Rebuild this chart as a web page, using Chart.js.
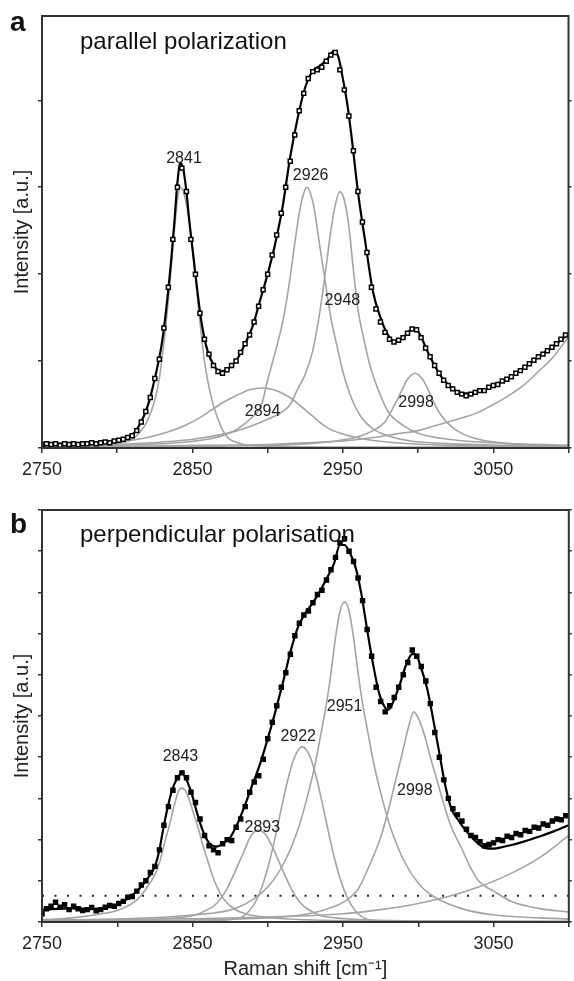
<!DOCTYPE html>
<html>
<head>
<meta charset="utf-8">
<script src="https://cdn.jsdelivr.net/npm/chart.js@4.4.1/dist/chart.umd.min.js"></script>
<style>
  body { margin: 0; background: #fff; }
  #wrap { position: relative; width: 574px; height: 981px; }
  canvas { position: absolute; left: 0; }
</style>
</head>
<body>
<div id="wrap">
  <canvas id="chartA" width="574" height="490" style="top:0px"></canvas>
  <canvas id="chartB" width="574" height="491" style="top:490px"></canvas>
</div>
<script>
// x axis
const xMin = 2750;
const xMax = 3100;
const xTickLabels = [2750, 2850, 2950, 3050];

// measured points (shared wavenumber grid for both panels)
const wnData = [
	2750, 2753, 2756, 2759, 2762, 2765, 2768, 2771, 2774, 2777,
	2780, 2783, 2786, 2789, 2792, 2795, 2798, 2801, 2804, 2807,
	2810, 2813, 2816, 2819, 2822, 2825, 2828, 2831, 2834, 2837,
	2840, 2843, 2846, 2849, 2852, 2855, 2858, 2861, 2864, 2867,
	2870, 2873, 2876, 2879, 2882, 2885, 2888, 2891, 2894, 2897,
	2900, 2903, 2906, 2909, 2912, 2915, 2918, 2921, 2924, 2927,
	2930, 2933, 2936, 2939, 2942, 2945, 2948, 2951, 2954, 2957,
	2960, 2963, 2966, 2969, 2972, 2975, 2978, 2981, 2984, 2987,
	2990, 2993, 2996, 2999, 3002, 3005, 3008, 3011, 3014, 3017,
	3020, 3023, 3026, 3029, 3032, 3035, 3038, 3041, 3044, 3047,
	3050, 3053, 3056, 3059, 3062, 3065, 3068, 3071, 3074, 3077,
	3080, 3083, 3086, 3089, 3092, 3095, 3098,
];

// ---------- panel a: parallel polarization ----------
const dataA = [
	0.04, 0.05, 0.04, 0.05, 0.03, 0.05, 0.04, 0.05, 0.04, 0.05,
	0.05, 0.06, 0.05, 0.06, 0.07, 0.06, 0.08, 0.09, 0.1, 0.12,
	0.14, 0.2, 0.3, 0.42, 0.58, 0.8, 1.02, 1.38, 1.85, 2.4,
	3.0, 3.22, 2.95, 2.4, 2.0, 1.55, 1.25, 1.08, 0.95, 0.88,
	0.86, 0.9, 0.95, 1.0, 1.1, 1.2, 1.3, 1.45, 1.63, 1.82,
	2.0, 2.22, 2.45, 2.7, 3.0, 3.3, 3.6, 3.88, 4.08, 4.25,
	4.33, 4.35, 4.38, 4.45, 4.52, 4.55, 4.35, 4.12, 3.82, 3.42,
	2.95, 2.6, 2.25, 1.85, 1.6, 1.45, 1.33, 1.25, 1.22, 1.24,
	1.27, 1.32, 1.37, 1.36, 1.27, 1.15, 1.05, 0.95, 0.86, 0.78,
	0.72, 0.68, 0.64, 0.62, 0.6, 0.62, 0.64, 0.66, 0.66, 0.7,
	0.72, 0.73, 0.77, 0.79, 0.82, 0.86, 0.89, 0.93, 0.97, 1.01,
	1.05, 1.08, 1.12, 1.16, 1.2, 1.25, 1.3,
];

const fitWnA = [2750, 2760, 2770, 2780, 2790, 2795, 2800, 2805, 2810, 2815, 2820, 2825, 2830, 2835, 2838,
	2840, 2842, 2844, 2846, 2848, 2850, 2853, 2856, 2860, 2865, 2869, 2875, 2880, 2885, 2890,
	2895, 2900, 2905, 2910, 2915, 2920, 2925, 2930, 2935, 2940, 2944, 2947, 2950, 2953, 2956,
	2960, 2965, 2970, 2975, 2980, 2985, 2990, 2995, 2998, 3002, 3006, 3010, 3015, 3020, 3025,
	3030, 3035, 3040, 3045, 3050, 3055, 3060, 3065, 3070, 3075, 3080, 3085, 3090, 3095, 3100];
const fitA = [0.05, 0.05, 0.05, 0.05, 0.06, 0.07, 0.08, 0.1, 0.15, 0.27, 0.47, 0.8, 1.24, 2.0, 2.6,
	3.05, 3.28, 3.2, 2.95, 2.6, 2.3, 1.85, 1.45, 1.12, 0.93, 0.88, 0.93, 1.03, 1.2, 1.4,
	1.7, 2.0, 2.35, 2.78, 3.35, 3.8, 4.15, 4.34, 4.4, 4.48, 4.57, 4.5, 4.25, 3.95, 3.55,
	2.95, 2.36, 1.8, 1.5, 1.3, 1.22, 1.27, 1.36, 1.38, 1.28, 1.12, 0.98, 0.83, 0.73, 0.66,
	0.63, 0.63, 0.65, 0.67, 0.72, 0.76, 0.8, 0.86, 0.92, 0.98, 1.05, 1.11, 1.17, 1.24, 1.32];

const bandWnA2841 = [2750, 2790, 2800, 2810, 2815, 2820, 2825, 2828, 2831, 2834, 2836, 2838, 2840, 2842,
	2844, 2846, 2848, 2850, 2852, 2855, 2858, 2862, 2866, 2872, 2880, 2900, 3000, 3100];
const bandA2841 = [0.02, 0.03, 0.05, 0.1, 0.18, 0.31, 0.55, 0.8, 1.2, 1.7, 2.1, 2.5, 2.85, 3.0,
	2.95, 2.8, 2.6, 2.3, 1.95, 1.45, 1.0, 0.62, 0.38, 0.15, 0.06, 0.02, 0.01, 0.01];

const bandWnA2894 = [2750, 2780, 2800, 2820, 2833, 2845, 2855, 2863, 2870, 2880, 2888, 2896, 2904, 2914,
	2925, 2939, 2950, 2965, 2985, 3020, 3100];
const bandA2894 = [0.03, 0.05, 0.07, 0.12, 0.18, 0.26, 0.35, 0.44, 0.52, 0.61, 0.67, 0.69, 0.67, 0.59,
	0.44, 0.24, 0.16, 0.1, 0.06, 0.03, 0.01];

const bandWnA2926 = [2750, 2800, 2840, 2860, 2870, 2880, 2890, 2896, 2900, 2905, 2910, 2914, 2918, 2921,
	2924, 2926, 2928, 2931, 2934, 2938, 2942, 2946, 2950, 2956, 2962, 2970, 2980, 2995, 3020, 3060, 3100];
const bandA2926 = [0.02, 0.03, 0.06, 0.1, 0.14, 0.22, 0.36, 0.5, 0.78, 1.1, 1.45, 1.85, 2.35, 2.7,
	2.93, 3.0, 2.95, 2.75, 2.4, 1.95, 1.5, 1.18, 0.88, 0.56, 0.36, 0.22, 0.14, 0.08, 0.05, 0.03, 0.02];

const bandWnA2948 = [2750, 2800, 2850, 2880, 2900, 2910, 2915, 2920, 2925, 2930, 2935, 2939, 2942, 2945,
	2948, 2951, 2954, 2957, 2960, 2964, 2968, 2974, 2980, 2990, 3000, 3020, 3050, 3100];
const bandA2948 = [0.02, 0.04, 0.1, 0.2, 0.33, 0.42, 0.5, 0.68, 0.85, 1.12, 1.6, 2.1, 2.5, 2.8,
	2.95, 2.85, 2.55, 2.05, 1.6, 1.25, 0.95, 0.65, 0.42, 0.26, 0.17, 0.1, 0.06, 0.03];

const bandWnA2998 = [2750, 2900, 2940, 2960, 2970, 2978, 2983, 2988, 2993, 2998, 3003, 3008, 3012, 3016,
	3022, 3030, 3040, 3060, 3100];
const bandA2998 = [0.01, 0.03, 0.07, 0.13, 0.2, 0.3, 0.45, 0.62, 0.79, 0.86, 0.79, 0.62, 0.47, 0.36,
	0.25, 0.16, 0.1, 0.05, 0.02];

const baseWnA = [2750, 2800, 2850, 2900, 2925, 2950, 2970, 2985, 3000, 3010, 3020, 3030, 3040, 3050,
	3060, 3070, 3080, 3090, 3100];
const baseA = [0.02, 0.02, 0.03, 0.04, 0.06, 0.08, 0.12, 0.16, 0.2, 0.25, 0.3, 0.35, 0.41, 0.5,
	0.6, 0.72, 0.88, 1.05, 1.28];

const peakTextA = ['2841', '2926', '2948', '2894', '2998'];
const peakWnA = [2844.4, 2928.6, 2949.7, 2896.6, 2998.7];
const peakYA = [3.33, 3.13, 1.7, 0.42, 0.52];

// ---------- panel b: perpendicular polarisation ----------
const dataB = [
	0.2, 0.32, 0.38, 0.48, 0.36, 0.42, 0.3, 0.38, 0.32, 0.28,
	0.3, 0.35, 0.27, 0.3, 0.36, 0.4, 0.38, 0.45, 0.5, 0.6,
	0.62, 0.75, 0.9, 1.0, 1.2, 1.35, 1.75, 2.35, 2.8, 3.2,
	3.5, 3.62, 3.5, 3.15, 2.9, 2.5, 2.1, 1.85, 1.75, 1.68,
	1.9, 2.0, 1.98, 2.3, 2.5, 2.8, 3.15, 3.4, 3.55, 3.95,
	4.45, 4.85, 5.25, 5.7, 6.05, 6.5, 6.95, 7.25, 7.45, 7.55,
	7.75, 7.95, 8.05, 8.3, 8.55, 8.85, 9.2, 9.3, 9.0, 8.75,
	8.35, 7.8, 7.1, 6.45, 5.7, 5.35, 5.1, 5.25, 5.45, 5.7,
	6.0, 6.3, 6.6, 6.45, 6.2, 5.85, 5.3, 4.6, 4.0, 3.45,
	3.0, 2.75, 2.6, 2.45, 2.25, 2.1, 2.05, 1.95, 1.85, 1.88,
	1.92, 2.0, 1.98, 2.08, 2.05, 2.15, 2.12, 2.22, 2.2, 2.3,
	2.28, 2.38, 2.35, 2.45, 2.5, 2.48, 2.58,
];

const fitWnB = [2750, 2760, 2770, 2780, 2790, 2795, 2800, 2805, 2810, 2815, 2820, 2825, 2828, 2830, 2833,
	2836, 2840, 2843, 2846, 2850, 2853, 2857, 2861, 2866, 2870, 2875, 2880, 2885, 2890, 2895,
	2900, 2905, 2910, 2915, 2920, 2925, 2930, 2935, 2940, 2944, 2948, 2951, 2954, 2958, 2962,
	2966, 2970, 2974, 2978, 2980, 2984, 2988, 2992, 2996, 2998, 3002, 3006, 3010, 3014, 3018,
	3022, 3027, 3032, 3037, 3044, 3050, 3056, 3062, 3070, 3080, 3090, 3100];
const fitB = [0.3, 0.32, 0.33, 0.32, 0.33, 0.37, 0.42, 0.52, 0.65, 0.82, 1.05, 1.35, 1.75, 2.15, 2.7,
	3.15, 3.5, 3.61, 3.45, 3.05, 2.65, 2.2, 1.92, 1.83, 1.9, 2.05, 2.4, 2.85, 3.35, 3.85,
	4.45, 5.1, 5.8, 6.55, 7.15, 7.5, 7.75, 8.05, 8.4, 8.7, 9.15, 9.15, 9.0, 8.65, 8.0,
	7.1, 6.25, 5.55, 5.2, 5.15, 5.4, 5.8, 6.25, 6.5, 6.5, 6.15, 5.65, 4.9, 4.1, 3.3,
	2.75, 2.45, 2.2, 2.0, 1.8, 1.78, 1.82, 1.87, 1.95, 2.07, 2.2, 2.35];

const bandWnB2843 = [2750, 2770, 2790, 2800, 2810, 2815, 2820, 2825, 2828, 2832, 2835, 2838, 2841, 2843,
	2845, 2848, 2851, 2854, 2857, 2860, 2864, 2868, 2872, 2879, 2885, 2895, 2910, 2930, 2960, 3000, 3100];
const bandB2843 = [0.05, 0.1, 0.2, 0.28, 0.45, 0.61, 0.85, 1.15, 1.43, 2.0, 2.4, 2.85, 3.2, 3.25,
	3.2, 2.95, 2.6, 2.25, 1.85, 1.5, 1.05, 0.72, 0.5, 0.29, 0.2, 0.13, 0.08, 0.05, 0.03, 0.02, 0.01];

const bandWnB2893 = [2750, 2800, 2830, 2850, 2860, 2866, 2872, 2878, 2884, 2889, 2894, 2899, 2904, 2910,
	2916, 2922, 2928, 2935, 2945, 2960, 2990, 3040, 3100];
const bandB2893 = [0.02, 0.04, 0.08, 0.15, 0.3, 0.45, 0.75, 1.2, 1.7, 2.1, 2.23, 2.1, 1.75, 1.25,
	0.78, 0.45, 0.28, 0.16, 0.1, 0.06, 0.03, 0.02, 0.01];

const bandWnB2922 = [2750, 2850, 2880, 2890, 2895, 2900, 2905, 2910, 2914, 2918, 2923, 2928, 2932, 2936,
	2941, 2945, 2950, 2955, 2960, 2965, 2975, 3000, 3100];
const bandB2922 = [0.01, 0.02, 0.08, 0.38, 0.74, 1.31, 2.07, 2.92, 3.55, 4.02, 4.25, 4.02, 3.55, 2.92,
	2.07, 1.45, 0.84, 0.44, 0.2, 0.08, 0.03, 0.02, 0.01];

const bandWnB2951 = [2750, 2850, 2880, 2900, 2911, 2921, 2926, 2931, 2936, 2939, 2942, 2945, 2948, 2951,
	2954, 2957, 2960, 2963, 2966, 2971, 2976, 2981, 2991, 3001, 3011, 3031, 3051, 3100];
const bandB2951 = [0.03, 0.17, 0.35, 0.85, 1.45, 2.35, 3.0, 3.75, 4.7, 5.3, 6.05, 6.9, 7.55, 7.77,
	7.55, 6.9, 6.05, 5.3, 4.7, 3.75, 3.0, 2.35, 1.45, 0.9, 0.6, 0.3, 0.17, 0.07];

const bandWnB2998 = [2750, 2850, 2900, 2918, 2938, 2952, 2960, 2969, 2975, 2980, 2986, 2990, 2994, 2997,
	3000, 3004, 3008, 3012, 3017, 3022, 3028, 3035, 3040, 3050, 3062, 3080, 3100];
const bandB2998 = [0.02, 0.05, 0.1, 0.15, 0.3, 0.52, 0.8, 1.5, 2.05, 2.7, 3.6, 4.2, 4.8, 5.1,
	4.95, 4.55, 4.0, 3.5, 2.85, 2.3, 1.85, 1.3, 1.0, 0.75, 0.5, 0.33, 0.24];

const baseWnB = [2750, 2800, 2850, 2900, 2950, 2975, 3000, 3020, 3040, 3060, 3080, 3100];
const baseB = [0.05, 0.06, 0.08, 0.12, 0.2, 0.3, 0.45, 0.62, 0.85, 1.15, 1.55, 2.1];

const dotLevelB = 0.64;

const peakTextB = ['2843', '2893', '2922', '2951', '2998'];
const peakWnB = [2842, 2896.4, 2920.2, 2951, 2997.7];
const peakYB = [4.01, 2.28, 4.5, 5.23, 3.2];

// ---------- drawing ----------
const family = '"Liberation Sans", Arial, Helvetica, sans-serif';
Chart.defaults.font.family = family;
Chart.defaults.color = '#222';

const grey = '#a4a4a4';
const pts = (xs, ys) => xs.map((x, i) => ({ x, y: ys[i] }));

const band = (xs, ys) => ({
	data: pts(xs, ys),
	borderColor: grey,
	borderWidth: 1.6,
	pointRadius: 0,
	cubicInterpolationMode: 'monotone',
	order: 3,
});

const fitLine = (xs, ys) => ({
	data: pts(xs, ys),
	borderColor: '#000',
	borderWidth: 2.2,
	pointRadius: 0,
	cubicInterpolationMode: 'monotone',
	order: 2,
});

const measured = (ys, fill, size, bw) => ({
	data: pts(wnData, ys),
	showLine: false,
	pointStyle: 'rect',
	pointRadius: size,
	pointBackgroundColor: fill,
	pointBorderColor: '#000',
	pointBorderWidth: bw,
	order: 1,
});

const decor = (o) => ({
	id: 'decor',
	afterDraw(chart) {
		const { ctx, chartArea: a, scales } = chart;
		ctx.save();
		ctx.strokeStyle = '#333';
		ctx.lineWidth = 2;
		ctx.strokeRect(a.left, a.top, a.right - a.left, a.bottom - a.top);

		ctx.fillStyle = '#222';
		ctx.font = '16px ' + family;
		ctx.textAlign = 'center';
		ctx.textBaseline = 'middle';
		o.text.forEach((t, i) => {
			ctx.fillText(t, scales.x.getPixelForValue(o.wn[i]), scales.y.getPixelForValue(o.y[i]));
		});

		ctx.textAlign = 'left';
		ctx.textBaseline = 'alphabetic';
		ctx.fillStyle = '#111';
		ctx.font = '24px ' + family;
		ctx.fillText(o.title, a.left + 38, a.top + o.titleDy);
		ctx.font = 'bold 28px ' + family;
		ctx.fillText(o.letter, 10, o.letterY);
		ctx.restore();
	},
});

const scalesFor = (yMax, xHeight, xTitle) => ({
	x: {
		type: 'linear',
		min: xMin,
		max: xMax,
		border: { display: false },
		grid: { drawOnChartArea: false, tickLength: 5, color: '#333', lineWidth: 1.5 },
		ticks: {
			stepSize: 50,
			autoSkip: false,
			maxRotation: 0,
			padding: 6,
			color: '#222',
			font: { size: 18 },
			callback: (v) => (xTickLabels.includes(v) ? String(v) : ''),
		},
		title: {
			display: !!xTitle,
			text: xTitle || '',
			color: '#222',
			font: { size: 20 },
			padding: { top: 0, bottom: 0 },
		},
		afterFit: (s) => {
			s.height = xHeight;
			s.paddingRight = 0;
		},
	},
	y: {
		min: 0,
		max: yMax,
		border: { display: false },
		grid: { drawOnChartArea: false, tickLength: 4, color: '#333', lineWidth: 1.5 },
		ticks: { display: false, stepSize: 1, includeBounds: false },
		title: {
			display: true,
			text: 'Intensity [a.u.]',
			color: '#222',
			font: { size: 20 },
			padding: { top: 10, bottom: 0 },
		},
		afterFit: (s) => { s.width = 42; },
	},
	y2: {
		position: 'right',
		min: 0,
		max: yMax,
		border: { display: false },
		grid: { drawOnChartArea: false, tickLength: 3, color: '#333', lineWidth: 1.5 },
		ticks: { display: false, stepSize: 1, includeBounds: false },
		afterFit: (s) => { s.width = 2; },
	},
});

const baseOptions = (padTop, scales) => ({
	responsive: false,
	animation: false,
	events: [],
	layout: { padding: { top: padTop, left: 0, right: 0, bottom: 0 } },
	plugins: { legend: { display: false }, tooltip: { enabled: false } },
	scales,
});

new Chart(document.getElementById('chartA').getContext('2d'), {
	type: 'line',
	data: {
		datasets: [
			measured(dataA, '#fff', 2.8, 1.5),
			fitLine(fitWnA, fitA),
			band(bandWnA2841, bandA2841),
			band(bandWnA2894, bandA2894),
			band(bandWnA2926, bandA2926),
			band(bandWnA2948, bandA2948),
			band(bandWnA2998, bandA2998),
			band(baseWnA, baseA),
		],
	},
	options: baseOptions(16, scalesFor(4.97, 42, null)),
	plugins: [decor({
		text: peakTextA, wn: peakWnA, y: peakYA,
		title: 'parallel polarization', titleDy: 33,
		letter: 'a', letterY: 31,
	})],
});

new Chart(document.getElementById('chartB').getContext('2d'), {
	type: 'line',
	data: {
		datasets: [
			measured(dataB, '#000', 3, 1.2),
			fitLine(fitWnB, fitB),
			{
				data: [{ x: xMin, y: dotLevelB }, { x: xMax, y: dotLevelB }],
				borderColor: '#222',
				borderWidth: 2,
				borderDash: [2, 10.5],
				pointRadius: 0,
				order: 4,
			},
			band(bandWnB2843, bandB2843),
			band(bandWnB2893, bandB2893),
			band(bandWnB2922, bandB2922),
			band(bandWnB2951, bandB2951),
			band(bandWnB2998, bandB2998),
			band(baseWnB, baseB),
		],
	},
	options: baseOptions(20, scalesFor(10, 59, 'Raman shift [cm⁻¹]')),
	plugins: [decor({
		text: peakTextB, wn: peakWnB, y: peakYB,
		title: 'perpendicular polarisation', titleDy: 32,
		letter: 'b', letterY: 43,
	})],
});
</script>
</body>
</html>
